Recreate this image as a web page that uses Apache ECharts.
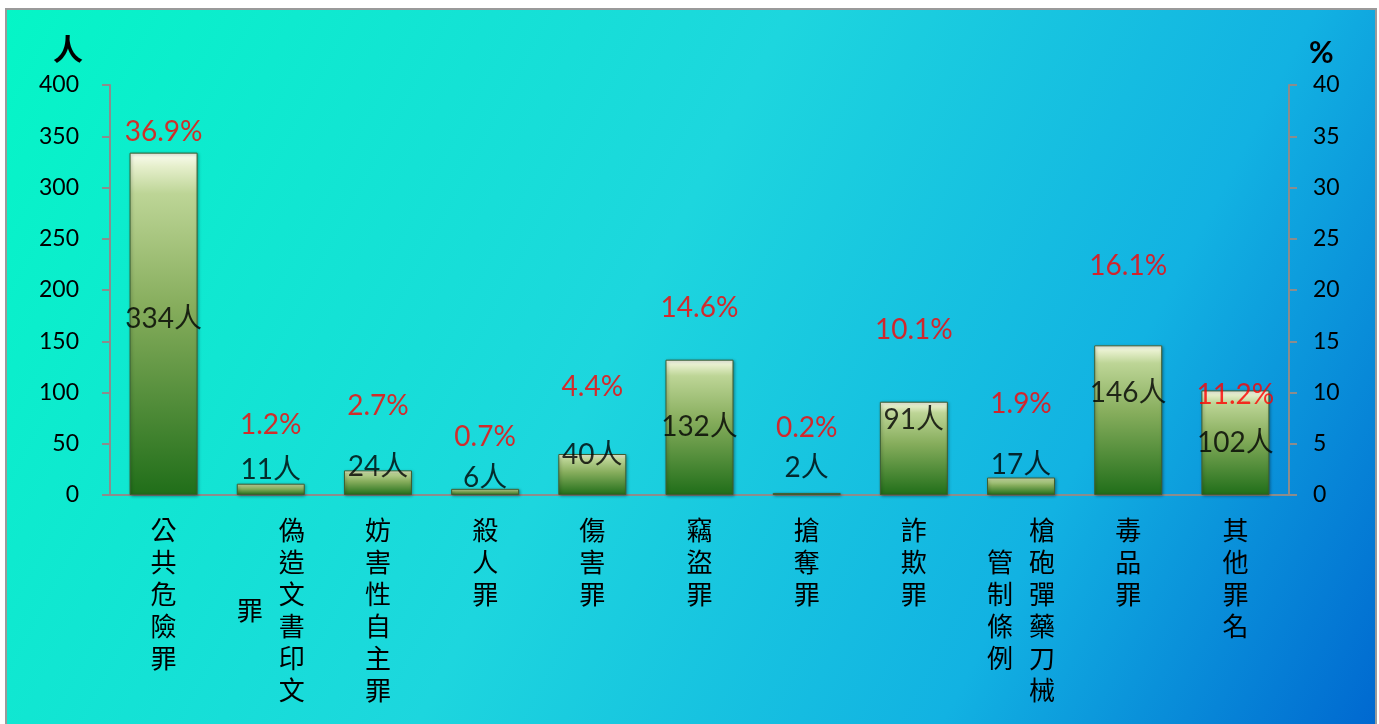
<!DOCTYPE html>
<html>
<head>
<meta charset="utf-8">
<script src="https://cdn.jsdelivr.net/npm/echarts@6/dist/echarts.min.js"></script>
<style>
  html, body { margin: 0; padding: 0; background: #fff; }
  #chart { width: 1379px; height: 724px; }
</style>
</head>
<body>
<div id="chart"></div>
<script>
// 罪名
var categories = ["公共危險罪", "偽造文書印文罪", "妨害性自主罪", "殺人罪", "傷害罪", "竊盜罪",
  "搶奪罪", "詐欺罪", "槍砲彈藥刀械管制條例", "毒品罪", "其他罪名"];
// 人數
var counts = [334, 11, 24, 6, 40, 132, 2, 91, 17, 146, 102];
// 百分比
var percents = [36.9, 1.2, 2.7, 0.7, 4.4, 14.6, 0.2, 10.1, 1.9, 16.1, 11.2];
// 標籤所在高度 (左軸刻度)
var countLabelAt = [172, 24, 27, 17, 39, 66, 26, 73, 29, 100, 51];
var pctLabelAt = [354, 68, 87, 57, 105, 182, 65, 161, 89, 223, 98];
// 刻度
var leftTicks = { min: 0, max: 400, interval: 50 };
var rightTicks = { min: 0, max: 40, interval: 5 };

var chart = echarts.init(document.getElementById("chart"));

// 直書標籤：每欄6字，由右至左，短欄置中
function verticalLabel(name) {
  var cols = [];
  for (var i = 0; i < name.length; i += 6) cols.push(name.slice(i, i + 6));
  var rows = cols[0].length * 2 - 1;
  var lines = [];
  for (var r = 0; r < rows; r++) {
    var frags = cols.slice().reverse().map(function(col) {
      var k = r - (cols[0].length - col.length);
      var ch = k >= 0 && k % 2 === 0 && k / 2 < col.length ? col[k / 2] : "\u3000";
      return "{c|" + ch + "}";
    });
    lines.push(frags.join(""));
  }
  return lines.join("\n");
}

var axisColor = "#8c8c8c";
var numFont = "Lato, 'Noto Sans CJK TC', sans-serif";

var opt = {
  animation: false,
  backgroundColor: "#ffffff",
  graphic: [{
    type: "rect",
    z: -10,
    shape: { x: 6, y: 9, width: 1370, height: 716 },
    style: {
      fill: new echarts.graphic.LinearGradient(0, 0, 1, 1, [
        { offset: 0, color: "#05f6c6" },
        { offset: 0.45, color: "#1dd6de" },
        { offset: 0.75, color: "#12b2e2" },
        { offset: 1, color: "#0068d0" }
      ]),
      stroke: "#9a9a9a",
      lineWidth: 2
    }
  }],
  grid: { left: 110, right: 90, top: 85, bottom: 229 },
  xAxis: {
    type: "category",
    data: categories,
    axisTick: { show: false },
    axisLine: { lineStyle: { color: axisColor, width: 2 } },
    axisLabel: {
      interval: 0,
      margin: 27,
      color: "#000",
      formatter: verticalLabel,
      rich: {
        c: {
          fontSize: 26,
          lineHeight: 16,
          width: 42,
          align: "center",
          fontFamily: "'Noto Sans CJK TC', sans-serif",
          color: "#000"
        }
      }
    }
  },
  yAxis: [{
    type: "value",
    min: leftTicks.min,
    max: leftTicks.max,
    interval: leftTicks.interval,
    name: "人",
    nameLocation: "end",
    nameGap: 36,
    nameTextStyle: {
      fontSize: 30,
      fontWeight: "bold",
      color: "#000",
      fontFamily: "'Noto Sans CJK TC', sans-serif",
      align: "right",
      verticalAlign: "middle",
      padding: [0, 27, 0, 0]
    },
    splitLine: { show: false },
    axisLine: { show: true, lineStyle: { color: axisColor, width: 2 } },
    axisTick: { show: true, length: 8, lineStyle: { color: axisColor, width: 2 } },
    axisLabel: { color: "#000", fontSize: 23, margin: 31, fontFamily: numFont }
  }, {
    type: "value",
    position: "right",
    min: rightTicks.min,
    max: rightTicks.max,
    interval: rightTicks.interval,
    name: "%",
    nameLocation: "end",
    nameGap: 32,
    nameTextStyle: {
      fontSize: 30,
      fontWeight: "bold",
      color: "#000",
      fontFamily: numFont,
      align: "left",
      verticalAlign: "middle",
      padding: [0, 0, 0, 20]
    },
    splitLine: { show: false },
    axisLine: { show: true, lineStyle: { color: axisColor, width: 2 } },
    axisTick: { show: true, length: 8, lineStyle: { color: axisColor, width: 2 } },
    axisLabel: { color: "#000", fontSize: 23, margin: 24, fontFamily: numFont }
  }],
  series: [{
    name: "人數",
    type: "bar",
    yAxisIndex: 0,
    barWidth: 68,
    data: counts,
    itemStyle: {
      color: new echarts.graphic.LinearGradient(0, 0, 0, 1, [
        { offset: 0, color: "#fbfdf2" },
        { offset: 0.04, color: "#e6efcc" },
        { offset: 0.12, color: "#bdd596" },
        { offset: 0.45, color: "#86ad5c" },
        { offset: 1, color: "#206e19" }
      ]),
      borderColor: "#3f5c30",
      borderWidth: 1,
      shadowColor: "rgba(0,0,0,0.35)",
      shadowBlur: 3,
      shadowOffsetX: 1,
      shadowOffsetY: 1
    }
  }, {
    name: "人數標籤",
    type: "scatter",
    yAxisIndex: 0,
    symbolSize: 1,
    itemStyle: { color: "rgba(0,0,0,0)" },
    data: countLabelAt,
    z: 5,
    label: {
      show: true,
      position: "inside",
      color: "#000",
      fontSize: 28,
      fontFamily: numFont,
      formatter: function(p) { return counts[p.dataIndex] + "人"; }
    }
  }, {
    name: "百分比標籤",
    type: "scatter",
    yAxisIndex: 0,
    symbolSize: 1,
    itemStyle: { color: "rgba(0,0,0,0)" },
    data: pctLabelAt,
    z: 5,
    label: {
      show: true,
      position: "inside",
      color: "#ff0000",
      fontSize: 28,
      fontFamily: numFont,
      formatter: function(p) { return percents[p.dataIndex].toFixed(1) + "%"; }
    }
  }]
};

chart.setOption(opt);
</script>
</body>
</html>
